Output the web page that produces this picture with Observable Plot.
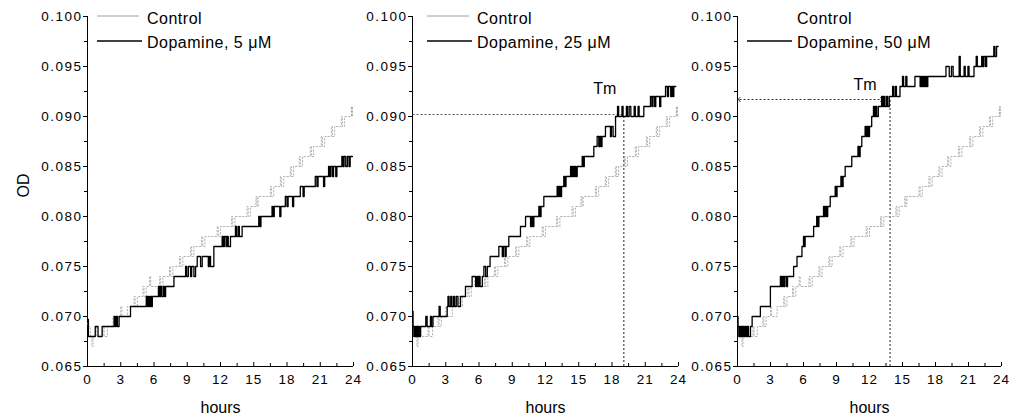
<!DOCTYPE html>
<html><head><meta charset="utf-8">
<script src="https://cdn.jsdelivr.net/npm/d3@7"></script>
<script src="https://cdn.jsdelivr.net/npm/@observablehq/plot@0.6"></script>
<style>
html,body{margin:0;padding:0;background:#fff;}
#wrap{position:relative;width:1009px;height:417px;overflow:hidden;background:#fff;font-family:"Liberation Sans",Arial,sans-serif;}
.panel{position:absolute;top:0;}
[aria-label="y-axis tick label"] text{letter-spacing:1.5px;}
[aria-label="x-axis tick label"] text{letter-spacing:1px;}
</style></head><body><div id="wrap"></div>
<script>
// ---------- data ----------
const hourTicks = [0, 3, 6, 9, 12, 15, 18, 21, 24];
const hourMinorTicks = [1.5, 4.5, 7.5, 10.5, 13.5, 16.5, 19.5, 22.5];
const odTicks = [0.065, 0.070, 0.075, 0.080, 0.085, 0.090, 0.095, 0.100];
const odMinorTicks = [0.0675, 0.0725, 0.0775, 0.0825, 0.0875, 0.0925, 0.0975];
const concentrations = ["5", "25", "50"];
const controlName = "Control";
const xTitle = "hours";
const yTitle = "OD";
const tmLabel = "Tm";
const tmHours = [null, 19.07, 13.87];
const tmOD = [null, 0.0902, 0.0917];
const tmArrowEnd = [null, null, 13.1];

// [hour, OD] step points
const control = [[0,0.0693],[0.05,0.069],[0.25,0.068],[0.4,0.067],[0.5,0.068],[0.7,0.069],[0.8,0.068],[1.4,0.069],[1.5,0.068],[1.8,0.069],[2.3,0.070],[2.4,0.069],[2.6,0.070],[3.0,0.071],[3.1,0.070],[3.6,0.071],[4.2,0.072],[4.3,0.071],[4.5,0.072],[5.0,0.073],[5.1,0.072],[5.3,0.073],[5.6,0.074],[5.7,0.073],[6.5,0.074],[6.6,0.073],[6.8,0.074],[7.4,0.075],[7.5,0.074],[7.7,0.075],[8.3,0.076],[8.4,0.075],[8.6,0.076],[9.3,0.077],[9.4,0.076],[9.6,0.077],[10.3,0.078],[10.4,0.077],[10.6,0.078],[11.7,0.079],[11.8,0.078],[12.0,0.079],[13.0,0.080],[13.1,0.079],[13.3,0.080],[14.4,0.081],[14.5,0.080],[14.7,0.081],[15.2,0.082],[15.3,0.081],[15.4,0.082],[16.5,0.083],[16.6,0.082],[16.8,0.083],[17.4,0.084],[17.5,0.083],[17.7,0.084],[18.3,0.085],[18.4,0.084],[18.6,0.085],[19.1,0.086],[19.2,0.085],[19.4,0.086],[20.1,0.087],[20.2,0.086],[20.4,0.087],[21.1,0.088],[21.2,0.087],[21.4,0.088],[22.0,0.089],[22.1,0.088],[22.3,0.089],[22.9,0.090],[23.0,0.089],[23.2,0.090],[23.8,0.091],[23.85,0.090],[23.9,0.091]];

const dopamine5 = [[0,0.0697],[0.08,0.068],[0.7,0.069],[0.95,0.068],[1.32,0.069],[2.4,0.070],[2.5,0.069],[2.6,0.070],[2.7,0.069],[2.85,0.070],[3.88,0.071],[5.3,0.072],[5.4,0.071],[5.5,0.072],[5.6,0.071],[5.7,0.072],[5.8,0.071],[5.85,0.072],[6.4,0.073],[6.5,0.072],[6.6,0.073],[6.7,0.072],[6.85,0.073],[6.95,0.072],[7.05,0.073],[7.8,0.074],[8.85,0.075],[8.95,0.074],[9.1,0.075],[9.3,0.074],[9.4,0.075],[9.6,0.074],[9.75,0.075],[9.9,0.076],[10.2,0.075],[10.35,0.076],[10.9,0.075],[11.0,0.076],[11.1,0.075],[11.4,0.077],[12.15,0.078],[12.25,0.077],[12.35,0.078],[12.5,0.077],[12.6,0.078],[12.7,0.077],[12.9,0.078],[13.35,0.079],[13.45,0.078],[13.6,0.079],[13.7,0.078],[13.95,0.079],[15.45,0.080],[15.55,0.079],[15.65,0.080],[16.65,0.081],[16.75,0.080],[16.85,0.081],[17.35,0.080],[17.45,0.081],[17.85,0.082],[18.0,0.081],[18.1,0.082],[18.5,0.081],[18.6,0.082],[19.2,0.083],[19.45,0.082],[19.55,0.083],[20.55,0.084],[20.7,0.083],[20.8,0.084],[21.3,0.083],[21.4,0.084],[21.75,0.085],[21.85,0.084],[21.95,0.085],[22.1,0.084],[22.2,0.085],[22.4,0.084],[22.5,0.085],[22.95,0.086],[23.05,0.085],[23.15,0.086],[23.3,0.085],[23.45,0.086],[23.6,0.085],[23.7,0.086],[23.9,0.086]];

const dopamine25 = [[0,0.0705],[0.05,0.069],[0.12,0.068],[0.2,0.069],[0.28,0.068],[0.36,0.069],[0.44,0.068],[0.52,0.069],[0.6,0.068],[0.72,0.069],[1.2,0.070],[1.32,0.069],[1.62,0.070],[1.72,0.069],[1.85,0.070],[2.4,0.071],[2.5,0.070],[3.13,0.071],[3.2,0.072],[3.3,0.071],[3.45,0.072],[3.55,0.071],[3.7,0.072],[3.8,0.071],[3.95,0.072],[4.1,0.071],[4.33,0.072],[4.78,0.073],[5.38,0.074],[5.7,0.073],[5.8,0.074],[5.9,0.073],[6.0,0.074],[6.1,0.073],[6.3,0.074],[6.44,0.075],[6.6,0.074],[6.75,0.075],[7.0,0.076],[7.79,0.077],[8.1,0.076],[8.2,0.077],[8.35,0.076],[8.45,0.077],[8.69,0.078],[9.74,0.079],[10.2,0.080],[10.65,0.079],[10.75,0.080],[10.85,0.079],[10.95,0.080],[11.4,0.081],[11.5,0.080],[11.6,0.081],[11.85,0.082],[13.05,0.083],[13.15,0.082],[13.25,0.083],[13.35,0.082],[13.45,0.083],[13.65,0.084],[13.75,0.083],[13.85,0.084],[14.26,0.085],[14.35,0.084],[14.45,0.085],[14.55,0.084],[14.65,0.085],[14.75,0.084],[14.86,0.085],[15.31,0.086],[15.4,0.085],[15.5,0.086],[16.36,0.087],[16.66,0.088],[16.81,0.087],[16.9,0.088],[17.0,0.087],[17.1,0.088],[17.41,0.089],[17.86,0.088],[17.95,0.089],[18.1,0.088],[18.32,0.090],[18.5,0.091],[18.6,0.090],[18.9,0.091],[19.0,0.090],[19.3,0.091],[19.4,0.090],[19.55,0.091],[19.7,0.090],[20.0,0.091],[20.1,0.090],[20.35,0.091],[20.45,0.090],[20.87,0.091],[21.47,0.092],[21.6,0.091],[21.7,0.092],[21.85,0.091],[21.95,0.092],[22.3,0.091],[22.4,0.092],[22.83,0.093],[23.0,0.092],[23.1,0.093],[23.3,0.092],[23.4,0.093],[23.5,0.092],[23.58,0.093],[23.75,0.093]];

const dopamine50 = [[0,0.070],[0.05,0.069],[0.12,0.068],[0.2,0.069],[0.28,0.068],[0.36,0.069],[0.44,0.068],[0.52,0.069],[0.6,0.068],[0.7,0.069],[0.8,0.068],[0.9,0.069],[1.0,0.068],[1.18,0.069],[1.33,0.070],[2.08,0.071],[2.99,0.073],[3.9,0.074],[4.0,0.073],[4.1,0.074],[4.2,0.073],[4.3,0.074],[4.45,0.073],[4.55,0.074],[5.1,0.075],[5.41,0.076],[5.86,0.077],[6.0,0.078],[6.05,0.077],[6.15,0.078],[6.92,0.079],[7.2,0.080],[7.3,0.079],[7.4,0.080],[7.82,0.081],[7.9,0.080],[8.0,0.081],[8.1,0.080],[8.2,0.081],[8.43,0.082],[8.88,0.083],[9.0,0.082],[9.05,0.083],[9.4,0.084],[9.5,0.083],[9.6,0.084],[9.79,0.085],[10.39,0.086],[10.95,0.087],[11.05,0.086],[11.15,0.087],[11.3,0.088],[11.6,0.089],[11.7,0.088],[11.8,0.089],[11.9,0.088],[12.0,0.089],[12.2,0.090],[12.36,0.091],[12.45,0.090],[12.55,0.091],[12.65,0.090],[12.8,0.091],[13.1,0.092],[13.2,0.091],[13.3,0.092],[13.4,0.091],[13.55,0.092],[13.65,0.091],[13.8,0.092],[14.1,0.093],[14.2,0.092],[14.35,0.093],[14.45,0.092],[14.77,0.093],[15.0,0.094],[15.1,0.093],[15.3,0.094],[15.4,0.093],[16.13,0.094],[16.6,0.093],[16.7,0.094],[16.8,0.093],[16.9,0.094],[17.0,0.093],[17.1,0.094],[17.2,0.093],[17.3,0.094],[18.95,0.095],[19.25,0.094],[19.45,0.095],[19.6,0.094],[20.15,0.096],[20.25,0.094],[20.6,0.095],[20.7,0.094],[20.95,0.095],[21.05,0.094],[21.5,0.095],[21.7,0.096],[21.8,0.095],[22.2,0.096],[22.3,0.095],[22.4,0.096],[22.55,0.095],[22.65,0.096],[23.3,0.097],[23.4,0.096],[23.55,0.097],[23.7,0.097]];

const dopamineSeries = [dopamine5, dopamine25, dopamine50];

// ---------- layout / style ----------
const FONT = '"Liberation Sans", Arial, sans-serif';
const panels = [
  {left: 0,   width: 360, ml: 87, plotW: 266, legLine: 10, legText: 60, controlLine: true},
  {left: 330, width: 355, ml: 82, plotW: 266, legLine: 15, legText: 65, controlLine: true},
  {left: 655, width: 354, ml: 82, plotW: 264, legLine: 10, legText: 60, controlLine: false}
];
const tmText = [null, {dx: -19, dy: -21}, {dx: -25, dy: -10}];

const wrap = document.getElementById("wrap");
const X = d => d[0], Y = d => d[1];

panels.forEach((p, i) => {
  const marks = [
    Plot.axisY(odTicks, {tickSize: 4, tickPadding: 1, tickFormat: d3.format(".3f"), fontSize: 13.5, label: null}),
    Plot.axisY(odMinorTicks, {tickSize: 3, tickFormat: () => "", label: null}),
    Plot.axisX(hourTicks, {tickSize: 0, tickPadding: 8, fontSize: 13.5, label: null}),
    Plot.ruleX(hourTicks, {x: d => d, y1: 0.065, y2: 0.0654, stroke: "#000"}),
    Plot.ruleX(hourMinorTicks, {x: d => d, y1: 0.065, y2: 0.0653, stroke: "#000"}),
    Plot.ruleX([0], {y1: 0.065, y2: 0.100, stroke: "#000", strokeWidth: 1}),
    Plot.ruleY([0.065], {x1: 0, x2: 24, stroke: "#000", strokeWidth: 1}),
    Plot.text([xTitle], {frameAnchor: "bottom", dy: 46, lineAnchor: "bottom", text: d => d, fontSize: 16})
  ];
  if (i === 0) {
    marks.push(Plot.text([yTitle], {frameAnchor: "left", dx: -64, dy: 6, rotate: -90, text: d => d, fontSize: 16, letterSpacing: 2}));
  }
  if (tmHours[i] != null) {
    const tm = [{h: tmHours[i], od: tmOD[i], end: tmArrowEnd[i]}];
    marks.push(Plot.ruleX(tm, {x: "h", y1: 0.065, y2: "od", stroke: "#222", strokeDasharray: "2,2", strokeWidth: 1}));
    if (tmArrowEnd[i] == null) {
      marks.push(Plot.link(tm, {x1: 0, x2: "h", y1: "od", y2: "od", stroke: "#555", strokeDasharray: "2,2", strokeWidth: 1}));
    } else {
      marks.push(Plot.link(tm, {x1: d => d.end / 2, x2: 0.15, y1: "od", y2: "od", stroke: "#333", strokeDasharray: "2,2", strokeWidth: 1, markerEnd: "arrow"}));
      marks.push(Plot.link(tm, {x1: d => d.end / 2, x2: "end", y1: "od", y2: "od", stroke: "#333", strokeDasharray: "2,2", strokeWidth: 1, markerEnd: "arrow"}));
    }
    marks.push(Plot.text(tm, {x: "h", y: "od", text: () => tmLabel, dx: tmText[i].dx, dy: tmText[i].dy, fontSize: 16, lineAnchor: "bottom"}));
  }
  marks.push(Plot.line(control, {x: X, y: Y, curve: "step-after", stroke: "#a0a0a0", strokeWidth: 0.8, strokeDasharray: "1.5,2"}));
  marks.push(Plot.line(dopamineSeries[i], {x: X, y: Y, curve: "step-after", stroke: "#000", strokeWidth: 1.3}));

  const chart = Plot.plot({
    width: p.width, height: 417,
    marginLeft: p.ml, marginRight: p.width - p.ml - p.plotW, marginTop: 16, marginBottom: 51,
    style: {fontFamily: FONT, fontSize: "13.5px", background: "transparent", overflow: "visible", color: "#000"},
    x: {domain: [0, 24]},
    y: {domain: [0.065, 0.100]},
    marks
  });
  const div = document.createElement("div");
  div.className = "panel";
  div.style.left = p.left + "px";
  div.appendChild(chart);
  wrap.appendChild(div);
});

// ---------- legends (overlay) ----------
const overlay = d3.select("#wrap").append("svg")
  .attr("width", 1009).attr("height", 417)
  .style("position", "absolute").style("left", 0).style("top", 0)
  .style("font-family", FONT).style("font-size", "16px");
panels.forEach((p, i) => {
  const ax = p.left + p.ml;
  if (p.controlLine) {
    overlay.append("line").attr("x1", ax + p.legLine).attr("x2", ax + p.legLine + 42)
      .attr("y1", 16).attr("y2", 16).attr("stroke", "#a0a0a0").attr("stroke-width", 1);
  }
  overlay.append("text").attr("x", ax + p.legText).attr("y", 24).attr("letter-spacing", 0.5).text(controlName);
  overlay.append("line").attr("x1", ax + p.legLine).attr("x2", ax + p.legLine + 45)
    .attr("y1", 41).attr("y2", 41).attr("stroke", "#000").attr("stroke-width", 1.3);
  overlay.append("text").attr("x", ax + p.legText).attr("y", 47.5).attr("letter-spacing", 0.5)
    .text(`Dopamine, ${concentrations[i]} \u03bcM`);
});
</script></body></html>
